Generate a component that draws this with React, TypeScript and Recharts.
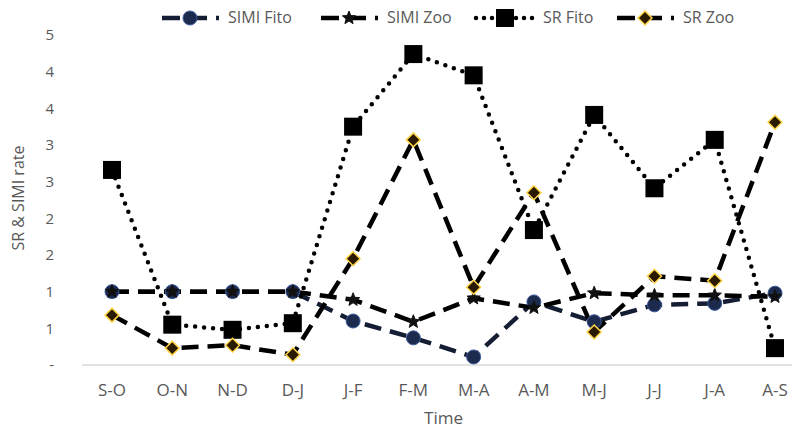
import React from 'react';
import { LineChart, Line, XAxis, YAxis, Legend, Label } from 'recharts';

const categories = ['S-O', 'O-N', 'N-D', 'D-J', 'J-F', 'F-M', 'M-A', 'A-M', 'M-J', 'J-J', 'J-A', 'A-S'];
const simiFito = [1.0, 1.0, 1.0, 1.0, 0.6, 0.37, 0.11, 0.86, 0.59, 0.82, 0.84, 0.98];
const simiZoo = [1.0, 1.0, 1.0, 1.0, 0.89, 0.59, 0.91, 0.78, 0.98, 0.95, 0.95, 0.93];
const srFito = [2.66, 0.55, 0.48, 0.57, 3.25, 4.24, 3.95, 1.84, 3.41, 2.41, 3.07, 0.23];
const srZoo = [0.68, 0.23, 0.27, 0.14, 1.45, 3.07, 1.06, 2.35, 0.45, 1.21, 1.15, 3.31];
const yTicks = [0, 0.5, 1, 1.5, 2, 2.5, 3, 3.5, 4, 4.5];

const data = categories.map((c, i) => ({
  cat: c,
  simiFito: simiFito[i],
  simiZoo: simiZoo[i],
  srFito: srFito[i],
  srZoo: srZoo[i],
}));

const FONT = '"Open Sans", "Liberation Sans", sans-serif';
const GREY = '#595959';

const CircleMark = ({ cx, cy }: any) => (
  <circle cx={cx} cy={cy} r={7} fill="#1c2a4e" stroke="#3b5a9a" strokeWidth={1} />
);
const StarMark = ({ cx, cy }: any) => {
  const pts: string[] = [];
  for (let k = 0; k < 10; k++) {
    const r = k % 2 === 0 ? 7 : 3;
    const a = -Math.PI / 2 + (k * Math.PI) / 5;
    pts.push(`${cx + r * Math.cos(a)},${cy + r * Math.sin(a)}`);
  }
  return <polygon points={pts.join(' ')} fill="#111" stroke="#111" strokeWidth={1} />;
};
const SquareMark = ({ cx, cy }: any) => (
  <rect x={cx - 9} y={cy - 9} width={18} height={18} fill="#000" />
);
const DiamondMark = ({ cx, cy }: any) => (
  <polygon
    points={`${cx},${cy - 7} ${cx + 7},${cy} ${cx},${cy + 7} ${cx - 7},${cy}`}
    fill="#2a1a00"
    stroke="#ffd54a"
    strokeWidth={1.5}
  />
);

const series = [
  { key: 'simiFito', name: 'SIMI Fito', color: '#141d33', dash: '17 9', cap: 'butt', Mark: CircleMark, lx: 190 },
  { key: 'simiZoo', name: 'SIMI Zoo', color: '#000', dash: '17 9', cap: 'butt', Mark: StarMark, lx: 349 },
  { key: 'srFito', name: 'SR Fito', color: '#000', dash: '0 9', cap: 'round', Mark: SquareMark, lx: 505 },
  { key: 'srZoo', name: 'SR Zoo', color: '#000', dash: '17 9', cap: 'butt', Mark: DiamondMark, lx: 645 },
];

const renderLegend = () => (
  <div style={{ position: 'relative', width: 792, height: 20, fontFamily: FONT, fontSize: 16, color: GREY }}>
    {series.map((s) => (
      <React.Fragment key={s.key}>
        <svg width={64} height={20} style={{ position: 'absolute', left: s.lx - 32, top: 0 }}>
          <line
            x1={3}
            y1={10}
            x2={61}
            y2={10}
            stroke={s.color}
            strokeWidth={4.5}
            strokeDasharray={s.cap === 'round' ? '0 8' : '18 9'}
            strokeDashoffset={s.cap === 'round' ? 0 : -1}
            strokeLinecap={s.cap as any}
          />
          <s.Mark cx={32} cy={10} />
        </svg>
        <span style={{ position: 'absolute', left: s.lx + 38, top: -2, lineHeight: '22px', whiteSpace: 'nowrap' }}>{s.name}</span>
      </React.Fragment>
    ))}
  </div>
);

const yFmt = (v: number) => (v === 0 ? '-' : String(Math.round(v)));

export default function App() {
  return (
    <div style={{ position: 'absolute', left: 0, top: 0, width: 792, height: 432, overflow: 'hidden', background: '#fff' }}>
      <LineChart width={812} height={432} data={data} margin={{ top: 15, right: 7, bottom: 37, left: 0 }}>
        <XAxis
          dataKey="cat"
          tickLine={false}
          axisLine={{ stroke: '#d9d9d9', strokeWidth: 1.5 }}
          tick={{ fill: GREY, fontSize: 17, fontFamily: FONT }}
          tickMargin={13}
          interval={0}
          padding={{ left: 30, right: 30 }}
          height={30}
        >
          <Label value="Time" position="bottom" offset={17} style={{ fill: GREY, fontSize: 17, fontFamily: FONT }} />
        </XAxis>
        <YAxis
          width={82}
          domain={[0, 4.5]}
          ticks={yTicks}
          tickFormatter={yFmt}
          axisLine={false}
          tickLine={false}
          tickMargin={22}
          tick={{ fill: GREY, fontSize: 15, fontFamily: FONT }}
          allowDataOverflow
        >
          <Label
            content={() => (
              <text x={20} y={198} transform="rotate(-90 20 198)" textAnchor="middle" dominantBaseline="middle" fill={GREY} fontSize={16} fontFamily={FONT}>
                SR &amp; SIMI rate
              </text>
            )}
          />
        </YAxis>
        <Legend verticalAlign="top" content={renderLegend} wrapperStyle={{ top: 8, left: 0, width: 792, height: 20 }} />
        {series.map((s) => (
          <Line
            key={s.key}
            type="linear"
            dataKey={s.key}
            name={s.name}
            stroke={s.color}
            strokeWidth={4.5}
            strokeDasharray={s.dash}
            strokeLinecap={s.cap as any}
            isAnimationActive={false}
            dot={(p: any) => <s.Mark key={`${s.key}-${p.index}`} cx={p.cx} cy={p.cy} />}
            activeDot={false}
          />
        ))}
      </LineChart>
    </div>
  );
}
